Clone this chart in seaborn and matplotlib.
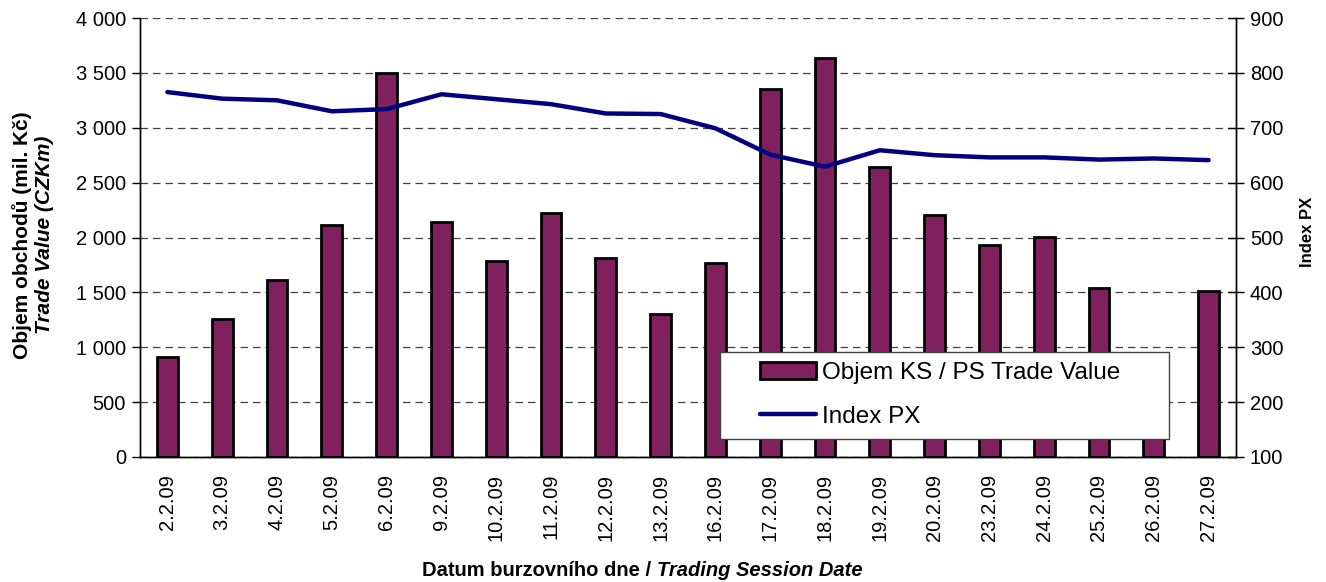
import numpy as np
import pandas as pd
import matplotlib
matplotlib.use("Agg")
import matplotlib.pyplot as plt
import seaborn as sns
from matplotlib.ticker import FuncFormatter, MultipleLocator, FixedLocator
from matplotlib.lines import Line2D
from matplotlib.patches import Patch, Rectangle

# data (February 2009 trading sessions)
dates = ["2.2.09", "3.2.09", "4.2.09", "5.2.09", "6.2.09", "9.2.09", "10.2.09",
         "11.2.09", "12.2.09", "13.2.09", "16.2.09", "17.2.09", "18.2.09",
         "19.2.09", "20.2.09", "23.2.09", "24.2.09", "25.2.09", "26.2.09", "27.2.09"]
trade_value = [909, 1256, 1615, 2118, 3495, 2139, 1783, 2225, 1813, 1304,
               1768, 3352, 3632, 2645, 2209, 1933, 2005, 1540, 850, 1514]
index_px = [765, 753, 750, 730, 734, 761, 752, 743, 726, 725,
            699, 651, 629, 659, 650, 646, 646, 642, 644, 641]

bar_color = "#80205F"
line_color = "#000080"

sns.set_style("white")
plt.rcParams["font.family"] = ["Liberation Sans", "DejaVu Sans"]
plt.rcParams["text.color"] = "black"
plt.rcParams["xtick.color"] = "black"
plt.rcParams["ytick.color"] = "black"

df = pd.DataFrame({"datum": dates, "objem": trade_value, "px": index_px})

fig = plt.figure(figsize=(13.26, 5.82), dpi=100)
ax1 = fig.add_axes([140 / 1326, 1 - 457 / 582, 1096 / 1326, 439 / 582])

sns.barplot(data=df, x="datum", y="objem", ax=ax1, color=bar_color,
            saturation=1, width=0.38, edgecolor="black", linewidth=2)
ax1.set_xlim(-0.5, len(dates) - 0.5)
ax1.set_ylim(0, 4000)
ax1.yaxis.set_major_locator(MultipleLocator(500))
ax1.yaxis.set_major_formatter(FuncFormatter(lambda v, p: f"{int(v):,}".replace(",", " ")))
ax1.set_axisbelow(True)
ax1.grid(axis="y", color="black", linestyle=(0, (6, 4)), linewidth=0.9, alpha=0.75)
ax1.set_xlabel("")
ax1.set_ylabel("")

ax1.xaxis.set_minor_locator(FixedLocator(np.arange(-0.5, len(dates), 1.0)))
ax1.tick_params(axis="x", which="major", length=0, labelsize=14.5, rotation=90, pad=12)
ax1.tick_params(axis="x", which="minor", length=12, width=1, direction="inout", color="black")
ax1.tick_params(axis="y", length=6, width=1, direction="out", labelsize=14.5, color="black", pad=4)

ax2 = ax1.twinx()
sns.lineplot(x=np.arange(len(df)), y=df["px"], ax=ax2, color=line_color,
             linewidth=3.2, sort=False, solid_capstyle="round", solid_joinstyle="round")
ax2.set_ylim(100, 900)
ax2.yaxis.set_major_locator(MultipleLocator(100))
ax2.tick_params(axis="y", length=12, width=1, direction="inout", labelsize=14.5, color="black", pad=4)
ax2.set_ylabel("")

for ax in (ax1, ax2):
    ax.spines["top"].set_visible(False)
    for side in ("left", "right", "bottom"):
        ax.spines[side].set_color("black")
        ax.spines[side].set_linewidth(1)

# legend box (white, square corners) sitting over the bars
box = Rectangle((580 / 1096, 18 / 439), 449 / 1096, 87 / 439, transform=ax2.transAxes,
                facecolor="white", edgecolor="#404040", linewidth=1, zorder=9, clip_on=False)
ax2.add_patch(box)

handles = [Patch(facecolor=bar_color, edgecolor="black", linewidth=2),
           Line2D([0], [0], color=line_color, linewidth=3.2, solid_capstyle="round")]
leg = ax2.legend(handles, ["Objem KS / PS Trade Value", "Index PX"],
                 loc="center left", bbox_to_anchor=(620 / 1096, 62 / 439), fontsize=17.5,
                 frameon=False, borderpad=0, handlelength=2.3, handleheight=0.7,
                 handletextpad=0.25, labelspacing=0.9, borderaxespad=0)
leg.set_zorder(10)

# axis titles
fig.text(22 / 1326, 1 - 235 / 582, "Objem obchodů (mil. Kč)", rotation=90,
         ha="center", va="center", fontsize=15, fontweight="bold")
fig.text(45 / 1326, 1 - 235 / 582, "Trade Value (CZKm)", rotation=90,
         ha="center", va="center", fontsize=15, fontweight="bold", fontstyle="italic")
fig.text(1308 / 1326, 1 - 232 / 582, "Index PX", rotation=90,
         ha="center", va="center", fontsize=12, fontweight="bold")
fig.text(651 / 1326, 1 - 571 / 582, "Datum burzovního dne /", ha="right",
         va="center", fontsize=14.5, fontweight="bold")
fig.text(657 / 1326, 1 - 571 / 582, "Trading Session Date", ha="left",
         va="center", fontsize=14.5, fontweight="bold", fontstyle="italic")

fig.savefig("out.png", dpi=100)
